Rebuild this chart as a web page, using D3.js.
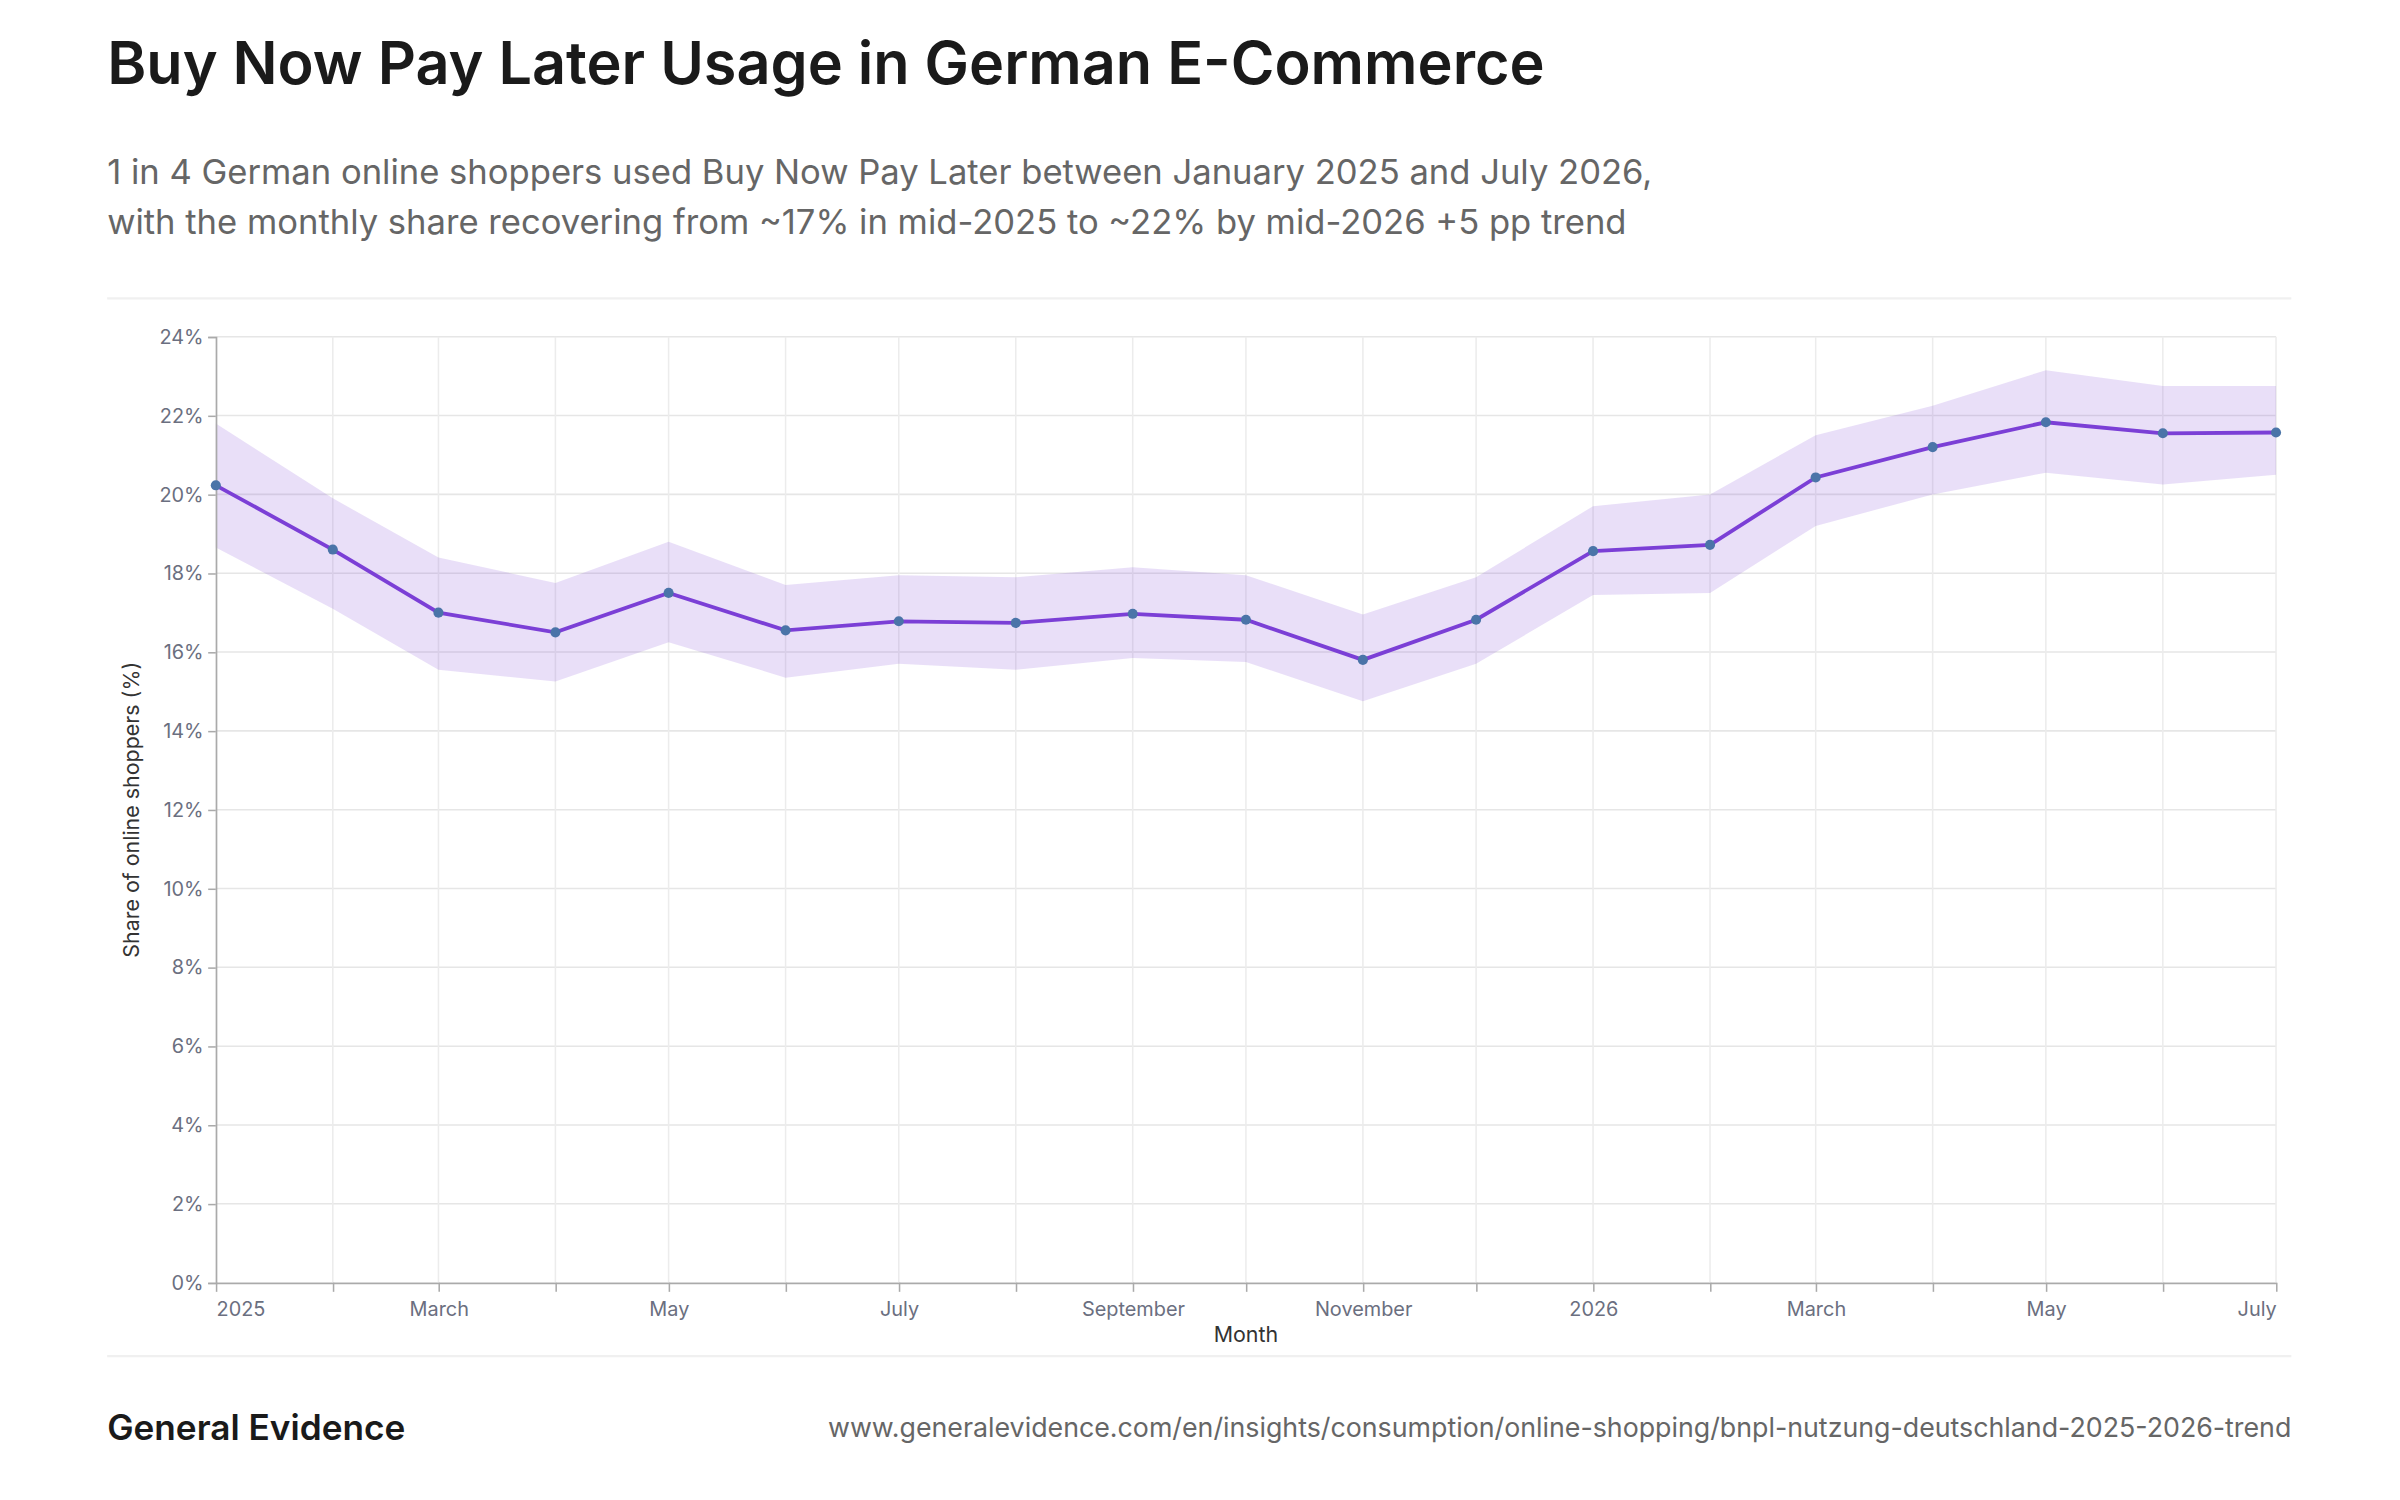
<!DOCTYPE html>
<html>
<head>
<meta charset="utf-8">
<script src="https://cdn.jsdelivr.net/npm/d3@7"></script>
<style>
  body { margin: 0; background: #fff; font-family: Inter, "Noto Sans", sans-serif; }
  svg { display: block; }
</style>
</head>
<body>
<svg id="chart"></svg>
<script>
// values, Jan 2025 .. Jul 2026
const months = d3.timeMonths(new Date(2025, 0, 1), new Date(2026, 7, 1));
const share = [20.23, 18.6, 17.0, 16.5, 17.5, 16.55, 16.78, 16.74, 16.97, 16.82, 15.8, 16.82, 18.56, 18.72, 20.43, 21.2, 21.83, 21.55, 21.57];
const upper = [21.8, 19.9, 18.4, 17.75, 18.8, 17.7, 17.95, 17.9, 18.15, 17.95, 16.95, 17.9, 19.7, 20.0, 21.5, 22.25, 23.15, 22.75, 22.75];
const lower = [18.65, 17.1, 15.55, 15.25, 16.25, 15.35, 15.7, 15.55, 15.85, 15.75, 14.75, 15.7, 17.45, 17.5, 19.2, 20.0, 20.55, 20.25, 20.5];
const yTicks = [0, 2, 4, 6, 8, 10, 12, 14, 16, 18, 20, 22, 24];

let width = 1552, height = 970;
let margin = { top: 220, right: 65, bottom: 132, left: 141 };

let svg = d3.select('#chart')
  .attr('width', 2400)
  .attr('height', 1500)
  .attr('viewBox', `0 0 1568 980`);

let data = months.map((m, i) => ({ date: m, v: share[i], hi: upper[i], lo: lower[i] }));

let x = d3.scaleTime()
  .domain([months[0], months[months.length - 1]])
  .range([margin.left, width - margin.right]);

let y = d3.scaleLinear()
  .domain([0, 24])
  .range([height - margin.bottom, margin.top]);

// title block
svg.append('text').attr('x', 70).attr('y', 55)
  .attr('font-size', 38.8).attr('font-weight', 600).attr('fill', '#1a1a1a')
  .text('Buy Now Pay Later Usage in German E-Commerce');
svg.append('text').attr('x', 70).attr('y', 120)
  .attr('font-size', 22.6).attr('fill', '#666')
  .text('1 in 4 German online shoppers used Buy Now Pay Later between January 2025 and July 2026,');
svg.append('text').attr('x', 70).attr('y', 153)
  .attr('font-size', 22.6).attr('fill', '#666')
  .text('with the monthly share recovering from ~17% in mid-2025 to ~22% by mid-2026 +5 pp trend');

svg.append('line').attr('x1', 70).attr('x2', 1497).attr('y1', 195).attr('y2', 195)
  .attr('stroke', '#f0f0f0').attr('stroke-width', 1.5);
svg.append('line').attr('x1', 70).attr('x2', 1497).attr('y1', 886).attr('y2', 886)
  .attr('stroke', '#f0f0f0').attr('stroke-width', 1.5);

// grid
svg.append('g').selectAll('line').data(yTicks).join('line')
  .attr('x1', margin.left).attr('x2', width - margin.right)
  .attr('y1', d => y(d)).attr('y2', d => y(d))
  .attr('stroke', '#e6e6e6');
svg.append('g').selectAll('line').data(months).join('line')
  .attr('x1', d => x(d)).attr('x2', d => x(d))
  .attr('y1', margin.top).attr('y2', height - margin.bottom)
  .attr('stroke', '#ececec');

// band
svg.append('path').datum(data)
  .attr('fill', '#7b3fd6').attr('fill-opacity', 0.17)
  .attr('d', d3.area().x(d => x(d.date)).y0(d => y(d.lo)).y1(d => y(d.hi)));

// axes
let xAxis = svg.append('g')
  .attr('transform', `translate(0,${height - margin.bottom})`)
  .call(d3.axisBottom(x).tickValues(months).tickSize(6).tickSizeOuter(0)
    .tickFormat((d, i) => i % 2 ? '' : (d.getMonth() === 0 ? d3.timeFormat('%Y')(d) : d3.timeFormat('%B')(d))));
xAxis.select('.domain').attr('stroke', '#aaa');
xAxis.selectAll('.tick line').attr('stroke', '#aaa');
xAxis.selectAll('text').attr('font-size', 13).attr('fill', '#6b6f80').attr('font-family', 'Inter').attr('dy', '1.0em');
xAxis.selectAll('.tick').filter((d, i) => i === 0).select('text').attr('text-anchor', 'start');
xAxis.selectAll('.tick').filter((d, i) => i === months.length - 1).select('text').attr('text-anchor', 'end');

let yAxis = svg.append('g')
  .attr('transform', `translate(${margin.left},0)`)
  .call(d3.axisLeft(y).tickValues(yTicks).tickSize(5).tickFormat(d => d + '%'));
yAxis.select('.domain').attr('stroke', '#aaa');
yAxis.selectAll('.tick line').attr('stroke', '#aaa');
yAxis.selectAll('text').attr('font-size', 13).attr('fill', '#6b6f80').attr('font-family', 'Inter');

svg.append('text').attr('x', 814).attr('y', 877).attr('text-anchor', 'middle')
  .attr('font-size', 14).attr('fill', '#333').text('Month');
svg.append('text').attr('transform', `translate(91,${y(12)}) rotate(-90)`)
  .attr('text-anchor', 'middle').attr('font-size', 14).attr('fill', '#333')
  .text('Share of online shoppers (%)');

// line + dots
svg.append('path').datum(data)
  .attr('fill', 'none').attr('stroke', '#7b3fd6').attr('stroke-width', 2.5)
  .attr('d', d3.line().x(d => x(d.date)).y(d => y(d.v)));
svg.append('g').selectAll('circle').data(data).join('circle')
  .attr('cx', d => x(d.date)).attr('cy', d => y(d.v)).attr('r', 3.3)
  .attr('fill', '#4a74a8');

// footer
svg.append('text').attr('x', 70).attr('y', 941)
  .attr('font-size', 23).attr('font-weight', 600).attr('fill', '#1a1a1a').text('General Evidence');
svg.append('text').attr('x', 1497).attr('y', 939).attr('text-anchor', 'end')
  .attr('font-size', 17.5).attr('fill', '#666')
  .text('www.generalevidence.com/en/insights/consumption/online-shopping/bnpl-nutzung-deutschland-2025-2026-trend');
</script>
</body>
</html>
